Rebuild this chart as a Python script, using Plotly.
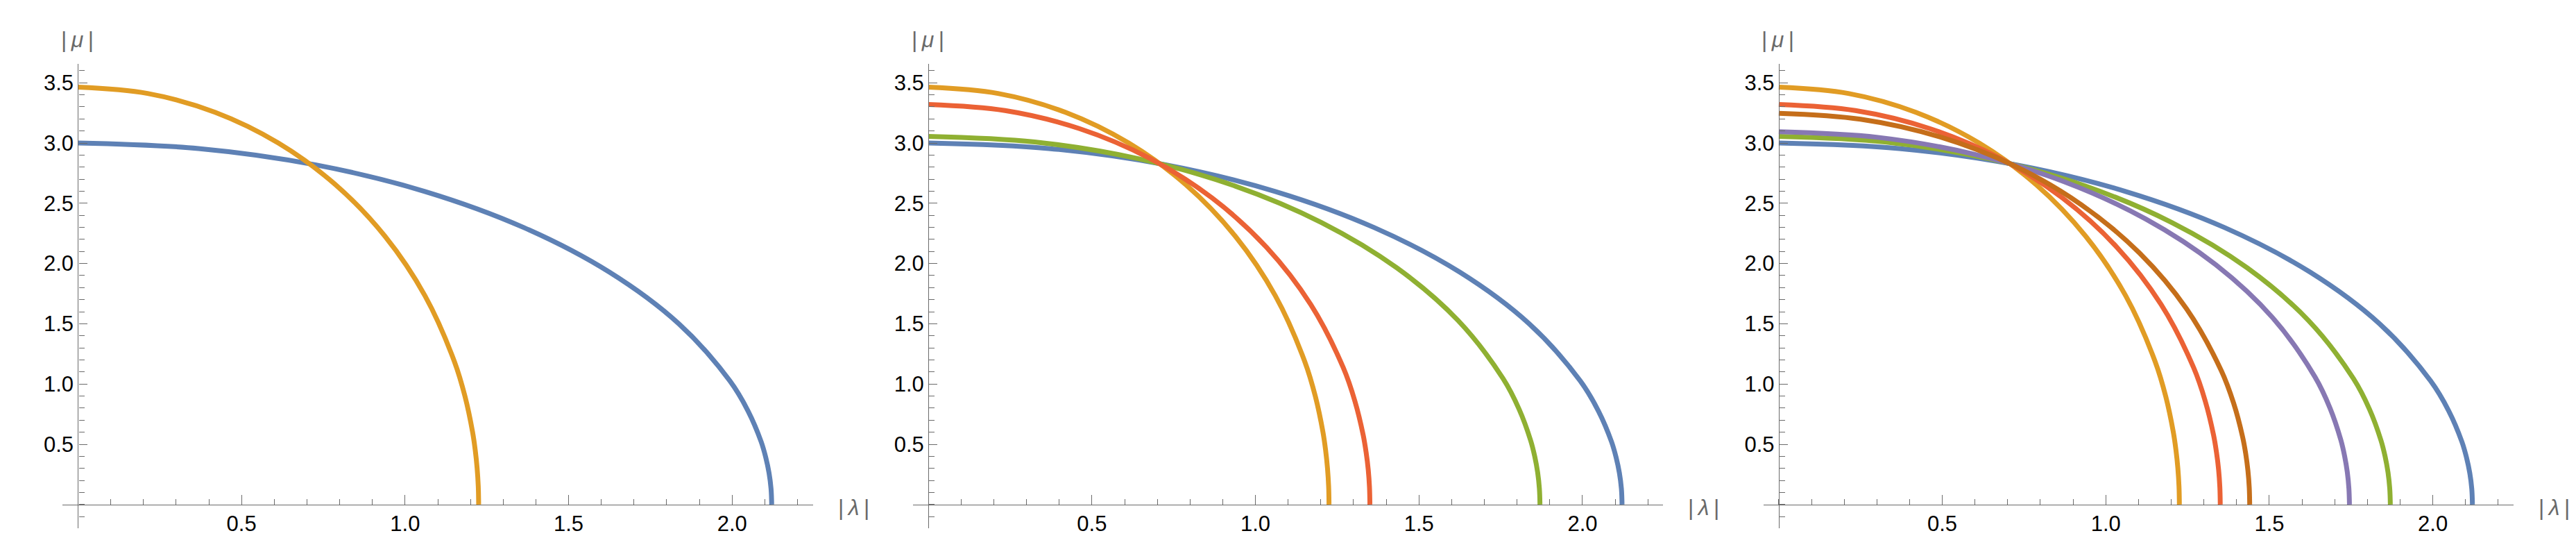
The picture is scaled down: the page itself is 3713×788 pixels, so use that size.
import plotly.graph_objects as go

# ---------------- data ----------------
# curve points (|lambda|, |mu|) for each curve
blue_x = [0, 0.3683, 0.7254, 1.0605, 1.3634, 1.6248, 1.8369, 1.9931, 2.0487, 2.0888, 2.1028, 2.1129, 2.1190, 2.121]
blue_y = [3.0, 2.9544, 2.8191, 2.5981, 2.2981, 1.9284, 1.5, 1.0261, 0.7765, 0.5210, 0.3916, 0.2615, 0.1309, 0]

orange_x = [0, 0.2127, 0.4190, 0.6125, 0.7874, 0.9384, 1.0609, 1.1511, 1.1833, 1.2064, 1.2145, 1.2203, 1.2238, 1.225]
orange_y = [3.464, 3.4114, 3.2551, 3.0, 2.6536, 2.2266, 1.732, 1.1848, 0.8966, 0.6015, 0.4522, 0.3019, 0.1511, 0]

green_x = [0, 0.3247, 0.6396, 0.935, 1.2020, 1.4325, 1.6195, 1.7572, 1.8063, 1.8416, 1.8540, 1.8629, 1.8682, 1.87]
green_y = [3.055, 3.0086, 2.8708, 2.6457, 2.3403, 1.9637, 1.5275, 1.0449, 0.7907, 0.5305, 0.3988, 0.2663, 0.1333, 0]

red_x = [0, 0.2344, 0.4617, 0.675, 0.8678, 1.0342, 1.1691, 1.2686, 1.3040, 1.3295, 1.3384, 1.3449, 1.3487, 1.35]
red_y = [3.32, 3.2696, 3.1198, 2.8752, 2.5433, 2.1341, 1.66, 1.1355, 0.8593, 0.5765, 0.4334, 0.2894, 0.1448, 0]

purple_x = [0, 0.3030, 0.5968, 0.8725, 1.1217, 1.3367, 1.5112, 1.6398, 1.6855, 1.7185, 1.7301, 1.7384, 1.7433, 1.745]
purple_y = [3.094, 3.0470, 2.9074, 2.6795, 2.3701, 1.9888, 1.547, 1.0582, 0.8008, 0.5373, 0.4039, 0.2697, 0.1350, 0]

brown_x = [0, 0.2501, 0.4925, 0.72, 0.9256, 1.1031, 1.2471, 1.3532, 1.3909, 1.4181, 1.4277, 1.4345, 1.4386, 1.44]
brown_y = [3.247, 3.1977, 3.0512, 2.8120, 2.4873, 2.0871, 1.6235, 1.1105, 0.8404, 0.5638, 0.4238, 0.2830, 0.1416, 0]

x_tick_vals = [0.5, 1.0, 1.5, 2.0]
x_tick_text = ["0.5", "1.0", "1.5", "2.0"]
y_tick_vals = [0.5, 1.0, 1.5, 2.0, 2.5, 3.0, 3.5]
y_tick_text = ["0.5", "1.0", "1.5", "2.0", "2.5", "3.0", "3.5"]

x_label = "|\u2009<i>λ</i>\u2009|"
y_label = "|\u2009<i>μ</i>\u2009|"

# curves shown in each panel (in drawing order)
panel_curves = [
    ["blue", "orange"],
    ["blue", "orange", "green", "red"],
    ["blue", "orange", "green", "red", "purple", "brown"],
]

# ---------------- styling ----------------
curves = {
    "blue": (blue_x, blue_y, "#5E81B5"),
    "orange": (orange_x, orange_y, "#E19C24"),
    "green": (green_x, green_y, "#8FB032"),
    "red": (red_x, red_y, "#EB6235"),
    "purple": (purple_x, purple_y, "#8778B3"),
    "brown": (brown_x, brown_y, "#C56E1A"),
}

W, H = 3713, 788
X_RANGE = [-0.047, 2.247]
Y_RANGE = [-0.195, 3.655]
PANEL_SHIFT = 1225.7
PX_LEFT, PX_RIGHT = 82.3, 1163.7
PY_TOP, PY_BOTTOM = 84.3, 752.7
AXIS_COLOR = "#6a6a6a"
FONT = "Liberation Sans, Arial, sans-serif"

fig = go.Figure()
layout = dict(
    width=W, height=H,
    margin=dict(l=0, r=0, t=0, b=0),
    paper_bgcolor="white", plot_bgcolor="white",
    showlegend=False,
    font=dict(family=FONT, size=31, color="black"),
    annotations=[],
)

y_dom = [(H - PY_BOTTOM) / H, (H - PY_TOP) / H]
px_per_x = (PX_RIGHT - PX_LEFT) / (X_RANGE[1] - X_RANGE[0])
px_per_y = (PY_BOTTOM - PY_TOP) / (Y_RANGE[1] - Y_RANGE[0])

for k, names in enumerate(panel_curves):
    sfx = "" if k == 0 else str(k + 1)
    left = PX_LEFT + k * PANEL_SHIFT
    right = PX_RIGHT + k * PANEL_SHIFT
    x_dom = [left / W, right / W]
    x0_px = left + (0 - X_RANGE[0]) * px_per_x
    y0_px = PY_BOTTOM - (0 - Y_RANGE[0]) * px_per_y

    for n in names:
        xs, ys, col = curves[n]
        fig.add_trace(go.Scatter(
            x=xs, y=ys, mode="lines",
            line=dict(color=col, width=7, shape="spline", smoothing=1.0),
            xaxis="x" + sfx, yaxis="y" + sfx, hoverinfo="skip",
        ))

    layout["xaxis" + sfx] = dict(
        domain=x_dom, range=X_RANGE, anchor="free", position=(H - y0_px) / H,
        showgrid=False, zeroline=False, showline=True, linecolor=AXIS_COLOR, linewidth=1.3,
        ticks="inside", ticklen=14, tickwidth=1.3, tickcolor=AXIS_COLOR,
        tickmode="array", tickvals=x_tick_vals, ticktext=x_tick_text,
        tickfont=dict(family=FONT, size=31, color="black"),
        minor=dict(tickmode="linear", tick0=0, dtick=0.1, ticks="inside", ticklen=8,
                   tickwidth=1.3, tickcolor=AXIS_COLOR, showgrid=False),
        automargin=False, fixedrange=True,
    )
    layout["yaxis" + sfx] = dict(
        domain=y_dom, range=Y_RANGE, anchor="free", position=x0_px / W,
        showgrid=False, zeroline=False, showline=True, linecolor=AXIS_COLOR, linewidth=1.3,
        ticks="inside", ticklen=12, tickwidth=1.3, tickcolor=AXIS_COLOR,
        tickmode="array", tickvals=y_tick_vals, ticktext=y_tick_text,
        tickfont=dict(family=FONT, size=31, color="black"),
        minor=dict(tickmode="linear", tick0=0, dtick=0.1, ticks="inside", ticklen=8,
                   tickwidth=1.3, tickcolor=AXIS_COLOR, showgrid=False),
        automargin=False, fixedrange=True,
    )
    # axis labels
    layout["annotations"].append(dict(
        text=y_label, xref="paper", yref="paper", x=(x0_px - 1) / W, y=(H - 49) / H,
        xanchor="center", yanchor="middle", showarrow=False,
        font=dict(family=FONT, size=32, color=AXIS_COLOR),
    ))
    layout["annotations"].append(dict(
        text=x_label, xref="paper", yref="paper", x=(right + 34) / W, y=(H - 723) / H,
        xanchor="left", yanchor="middle", showarrow=False,
        font=dict(family=FONT, size=32, color=AXIS_COLOR),
    ))

fig.update_layout(**layout)
fig.write_html("out.html")
